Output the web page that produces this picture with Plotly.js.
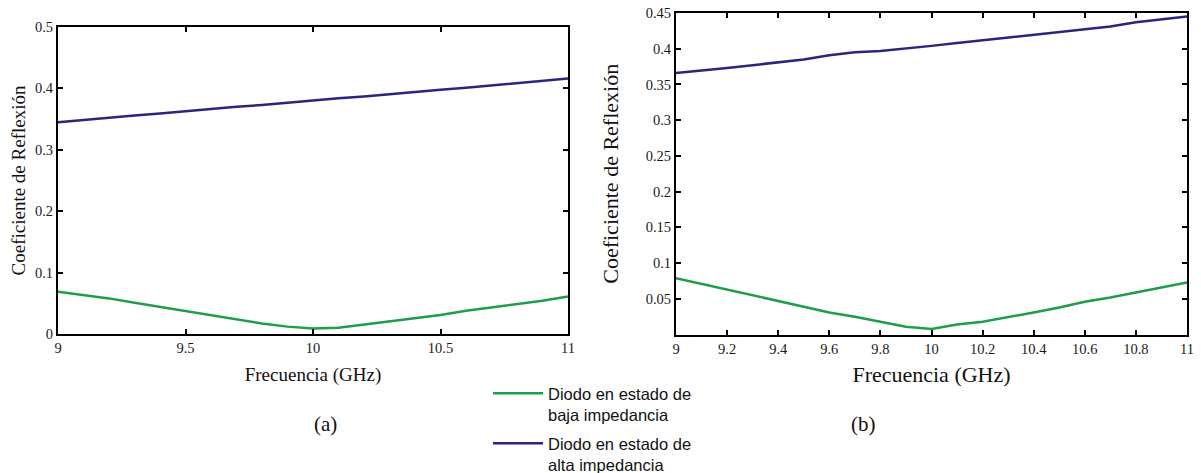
<!DOCTYPE html>
<html>
<head>
<meta charset="utf-8">
<script src="https://cdn.plot.ly/plotly-3.0.1.min.js"></script>
<style>html,body{margin:0;padding:0;background:#fff;}#chart{width:1201px;height:473px;}</style>
</head>
<body>
<div id="chart"></div>
<script>
// Frequency (GHz)
const freq = [9.0, 9.1, 9.2, 9.3, 9.4, 9.5, 9.6, 9.7, 9.8, 9.9, 10.0, 10.1, 10.2, 10.3, 10.4, 10.5, 10.6, 10.7, 10.8, 10.9, 11.0];

// Panel (a)
const lowA  = [0.069, 0.064, 0.058, 0.051, 0.044, 0.037, 0.030, 0.023, 0.017, 0.012, 0.009, 0.010, 0.015, 0.020, 0.025, 0.031, 0.038, 0.043, 0.048, 0.054, 0.061];
const highA = [0.345, 0.349, 0.352, 0.356, 0.359, 0.363, 0.367, 0.370, 0.373, 0.377, 0.381, 0.384, 0.387, 0.391, 0.395, 0.398, 0.401, 0.405, 0.409, 0.412, 0.416];

// Panel (b)
const lowB  = [0.079, 0.071, 0.063, 0.054, 0.046, 0.038, 0.031, 0.025, 0.018, 0.011, 0.008, 0.014, 0.018, 0.024, 0.031, 0.038, 0.046, 0.052, 0.059, 0.067, 0.073];
const highB = [0.366, 0.369, 0.373, 0.377, 0.381, 0.385, 0.391, 0.395, 0.397, 0.400, 0.404, 0.408, 0.412, 0.416, 0.420, 0.423, 0.427, 0.431, 0.437, 0.441, 0.445];

const seriesNames = ["Diodo en estado de<br>baja impedancia", "Diodo en estado de<br>alta impedancia"];
const xTicksA = [9, 9.5, 10, 10.5, 11];
const xTicksB = [9, 9.2, 9.4, 9.6, 9.8, 10, 10.2, 10.4, 10.6, 10.8, 11];
const yTicksA = [0, 0.1, 0.2, 0.3, 0.4, 0.5];
const yTicksB = [0.05, 0.1, 0.15, 0.2, 0.25, 0.3, 0.35, 0.4, 0.45];

const GREEN = "#1f9d4a";
const BLUE = "#29267c";

const traces = [
  {x: freq, y: lowA, type: "scatter", mode: "lines", name: seriesNames[0], line: {color: GREEN, width: 2.5}, xaxis: "x", yaxis: "y", showlegend: true, legendgroup: "low"},
  {x: freq, y: highA, type: "scatter", mode: "lines", name: seriesNames[1], line: {color: BLUE, width: 2.5}, xaxis: "x", yaxis: "y", showlegend: true, legendgroup: "high"},
  {x: freq, y: lowB, type: "scatter", mode: "lines", name: seriesNames[0], line: {color: GREEN, width: 2.5}, xaxis: "x2", yaxis: "y2", showlegend: false, legendgroup: "low"},
  {x: freq, y: highB, type: "scatter", mode: "lines", name: seriesNames[1], line: {color: BLUE, width: 2.5}, xaxis: "x2", yaxis: "y2", showlegend: false, legendgroup: "high"}
];

const serif = "'Liberation Serif', 'Times New Roman', serif";
const axBase = {
  showline: true, linecolor: "#000", linewidth: 2, mirror: "ticks",
  ticks: "inside", ticklen: 5, tickwidth: 2, tickcolor: "#000",
  showgrid: false, zeroline: false, automargin: false,
  tickfont: {family: serif, size: 14.5, color: "#1a1a1a"}
};

const layout = {
  width: 1201, height: 473,
  margin: {l: 0, r: 0, t: 0, b: 0, autoexpand: false},
  paper_bgcolor: "#fff", plot_bgcolor: "#fff",
  showlegend: true,
  xaxis: Object.assign({}, axBase, {
    domain: [58/1201, 568/1201], range: [9, 11], tickvals: xTicksA, anchor: "y",
    title: {text: "Frecuencia (GHz)", font: {family: serif, size: 19, color: "#111"}, standoff: 12}
  }),
  yaxis: Object.assign({}, axBase, {
    domain: [1 - 334/473, 1 - 27/473], range: [0, 0.5], tickvals: yTicksA, anchor: "x",
    title: {text: "Coeficiente de Reflexión", font: {family: serif, size: 19, color: "#111"}, standoff: 4}
  }),
  xaxis2: Object.assign({}, axBase, {
    domain: [676/1201, 1187/1201], range: [9, 11], tickvals: xTicksB, anchor: "y2",
    title: {text: "Frecuencia (GHz)", font: {family: serif, size: 22, color: "#111"}, standoff: 11}
  }),
  yaxis2: Object.assign({}, axBase, {
    domain: [1 - 334.6/473, 1 - 13/473], range: [0, 0.45], tickvals: yTicksB, anchor: "x2",
    title: {text: "Coeficiente de Reflexión", font: {family: serif, size: 22, color: "#111"}, standoff: 21}
  }),
  legend: {
    x: 488/1201, y: 1 - 376/473, xanchor: "left", yanchor: "top",
    font: {family: "'Liberation Sans', Arial, sans-serif", size: 16.5, color: "#111"},
    valign: "top", itemwidth: 50, tracegroupgap: 4, bgcolor: "rgba(0,0,0,0)"
  },
  annotations: [
    {text: "(a)", xref: "paper", yref: "paper", x: 312/1201, y: 1 - 438/473, showarrow: false, font: {family: serif, size: 21, color: "#111"}},
    {text: "(b)", xref: "paper", yref: "paper", x: 878/1201, y: 1 - 438/473, showarrow: false, font: {family: serif, size: 21, color: "#111"}}
  ]
};

Plotly.newPlot("chart", traces, layout, {displayModeBar: false, staticPlot: true});
</script>
</body>
</html>
